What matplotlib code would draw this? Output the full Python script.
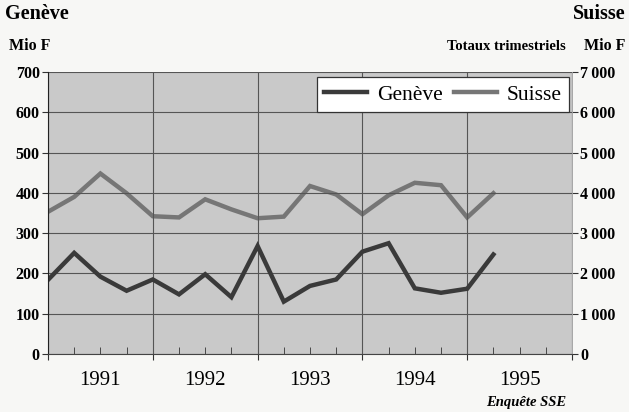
import matplotlib
matplotlib.use("Agg")
import matplotlib.pyplot as plt
from matplotlib.lines import Line2D
from matplotlib.ticker import FuncFormatter, MultipleLocator

# quarterly totals, Q1 1991 .. Q2 1995
quarters = list(range(18))
geneve = [184, 251, 192, 157, 185, 148, 198, 141, 268, 130, 169, 185,
          254, 275, 163, 152, 162, 247]
suisse = [3530, 3900, 4480, 3990, 3420, 3390, 3840, 3590, 3370, 3410, 4170, 3960,
          3470, 3940, 4250, 4190, 3390, 3990]
years = ["1991", "1992", "1993", "1994", "1995"]

plt.rcParams["font.family"] = ["Liberation Serif", "DejaVu Serif"]

c_gen = "#3a3a3a"
c_sui = "#767676"

fig = plt.figure(figsize=(6.29, 4.12), dpi=100)
fig.patch.set_facecolor("#f7f7f5")
ax = fig.add_axes([0.0763, 0.1408, 0.8331, 0.6844])
ax2 = ax.twinx()

ax.set_xlim(0, 20)
ax.set_ylim(0, 700)
ax2.set_ylim(0, 7000)

# grid on the left axes, drawn above the grey background of ax2
ax.yaxis.set_major_locator(MultipleLocator(100))
ax.set_xticks(range(0, 21, 4))
ax.set_xticks(range(0, 21), minor=True)
ax.grid(True, which="major", color="#555555", linewidth=0.8)
ax.set_axisbelow(True)

ax2.plot(quarters, suisse, color=c_sui, linewidth=3.2, solid_joinstyle="miter")
ax.plot(quarters, geneve, color=c_gen, linewidth=3.2, solid_joinstyle="miter")
ax.set_zorder(ax2.get_zorder() + 1)
ax.set_facecolor("none")
ax2.patch.set_visible(True)
ax2.patch.set_facecolor("#c9c9c9")

for a in (ax, ax2):
    for s in a.spines.values():
        s.set_visible(False)
ax.spines["left"].set_visible(True)
ax.spines["left"].set_color("#222222")
ax.spines["bottom"].set_visible(True)
ax.spines["bottom"].set_color("#444444")
ax2.spines["right"].set_visible(True)
ax2.spines["right"].set_color("#999999")
ax2.spines["right"].set_linewidth(0.6)

ax.tick_params(axis="y", direction="out", length=4, labelsize=11.5, pad=2,
               color="#333333")
ax.tick_params(axis="x", which="major", direction="out", length=4, labelbottom=False,
               color="#333333")
ax.tick_params(axis="x", which="minor", direction="in", length=5, color="#333333")
ax2.tick_params(axis="y", direction="out", length=4, labelsize=11.5, pad=2,
                color="#333333")
ax2.yaxis.set_major_locator(MultipleLocator(1000))
ax2.yaxis.set_major_formatter(FuncFormatter(lambda v, p: f"{int(v):,}".replace(",", "\u2009")))
for t in ax.get_yticklabels() + ax2.get_yticklabels():
    t.set_fontweight("bold")

for i, y in enumerate(years):
    ax.text(i * 4 + 2, -65, y, ha="center", va="center", fontsize=15)

handles = [Line2D([], [], color=c_gen, linewidth=3.2),
           Line2D([], [], color=c_sui, linewidth=3.2)]
leg = ax.legend(handles, ["Genève", "Suisse"], loc="upper right", ncol=2,
                bbox_to_anchor=(0.994, 0.982), fontsize=15.5, frameon=True,
                fancybox=False, framealpha=1, edgecolor="#333333",
                handlelength=2.0, handletextpad=0.45, columnspacing=0.5,
                borderpad=0.35, borderaxespad=0)
leg.get_frame().set_linewidth(0.9)

fig.text(0.008, 0.965, "Genève", fontsize=14.5, fontweight="bold", ha="left", va="center")
fig.text(0.014, 0.888, "Mio F", fontsize=11.5, fontweight="bold", ha="left", va="center")
fig.text(0.995, 0.965, "Suisse", fontsize=14.5, fontweight="bold", ha="right", va="center")
fig.text(0.995, 0.888, "Mio F", fontsize=11.5, fontweight="bold", ha="right", va="center")
fig.text(0.900, 0.888, "Totaux trimestriels", fontsize=10.5, fontweight="bold",
         ha="right", va="center")
fig.text(0.90, 0.022, "Enquête SSE", fontsize=10.5, fontweight="bold", style="italic",
         ha="right", va="center")

fig.savefig("out.png", dpi=100, facecolor=fig.get_facecolor())
